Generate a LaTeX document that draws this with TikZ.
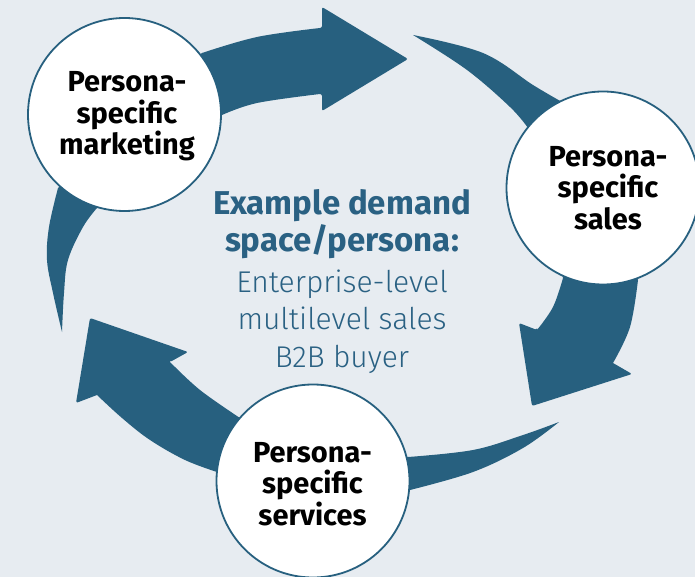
\documentclass[tikz,border=0pt]{standalone}
\usepackage{fontspec}
\setmainfont{Fira Sans}
\newfontfamily\lightfont{Fira Sans Light}
\definecolor{bg}{HTML}{E7ECF1}
\definecolor{arr}{HTML}{27607F}
\definecolor{txtblue}{HTML}{2A6183}
\begin{document}
\begin{tikzpicture}[x=1pt,y=-1pt,
  arrowfill/.style={fill=arr},
  bubble/.style={circle,draw=arr,line width=1.8pt,fill=white,minimum size=193pt,inner sep=0pt},
  bubbletext/.style={align=center,font=\bfseries\fontsize{29}{31.5}\selectfont,text=black},
  headtext/.style={align=center,text=txtblue,font=\bfseries\fontsize{33}{37}\selectfont},
  bodytext/.style={align=center,text=txtblue,font=\lightfont\fontsize{30}{37.5}\selectfont}]
\fill[bg] (0,0) rectangle (695,577);
\useasboundingbox (0,0) rectangle (695,577);

% arrow: marketing -> sales
\fill[arrowfill] (62,332)
  -- plot[smooth,tension=0.6] coordinates {(62,332) (53,293) (47,260) (49,227) (58,188)}
  -- (202,53)
  -- plot[smooth,tension=0.6] coordinates {(202,53) (257,37) (320,28)}
  {[rounded corners=2pt] -- (322,28) -- (322,7) -- (408,59) -- (322,111) -- (322,94)}
  -- plot[smooth,tension=0.6] coordinates {(320,94) (257,103) (222,115)}
  -- (97,208)
  -- plot[smooth,tension=0.6] coordinates {(97,208) (83,227) (68,260) (64,293) (62,332)}
  -- cycle;

% arrow: sales -> services
\fill[arrowfill] (413,35)
  -- plot[smooth,tension=0.6] coordinates {(413,35) (483,53) (533,85) (562,102)}
  -- (638,280)
  -- plot[smooth,tension=0.6] coordinates {(638,280) (630,327) (613,363)}
  {[rounded corners=2pt] -- (632,374) -- (532,406) -- (519,323) -- (537,330)}
  -- plot[smooth,tension=0.6] coordinates {(537,330) (553,307) (563,278)}
  -- (528,128)
  -- plot[smooth,tension=0.6] coordinates {(528,128) (510,107) (467,70) (413,35)}
  -- cycle;

% arrow: services -> marketing
\fill[arrowfill] (559,422)
  -- plot[smooth,tension=0.6] coordinates {(559,422) (523,448) (473,472) (410,490)}
  -- (217,472)
  -- plot[smooth,tension=0.6] coordinates {(217,472) (185,460) (150,440) (122,418) (97,395)}
  {[rounded corners=2pt] -- (76,403) -- (90,318) -- (188,352) -- (170,362)}
  -- plot[smooth,tension=0.6] coordinates {(170,362) (200,390) (240,418)}
  -- (408,457)
  -- plot[smooth,tension=0.6] coordinates {(408,457) (473,450) (523,435) (559,422)}
  -- cycle;

% circles
\node[bubble] (mk) at (124.5,114.5) {};
\node[bubble] (sl) at (603,188) {};
\node[bubble] (sv) at (313,481) {};

\node[bubbletext] (mkt) at (127,116.5) {Persona-\\specific\\marketing};
\node[bubbletext] (slt) at (608,188) {Persona-\\specific\\sales};
\node[bubbletext] (svt) at (312.5,484) {Persona-\\specific\\services};

% centre text
\node[headtext] (ct) at (342,224.5) {Example demand\\space/persona:};
\node[bodytext] (cs) at (342,321.5) {Enterprise-level\\multilevel sales\\B2B buyer};
\end{tikzpicture}
\end{document}
